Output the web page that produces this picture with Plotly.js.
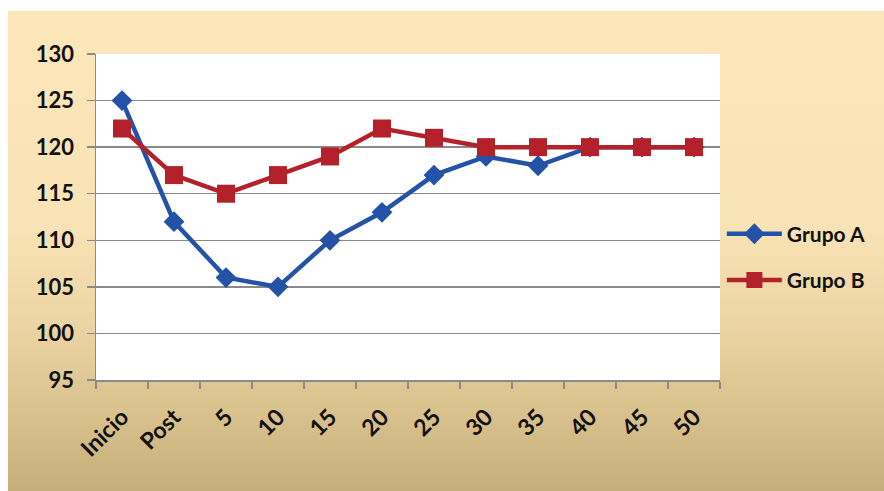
<!DOCTYPE html>
<html>
<head>
<meta charset="utf-8">
<script src="https://cdn.plot.ly/plotly-3.0.1.min.js"></script>
<style>
  html, body { margin:0; padding:0; background:#ffffff; }
  #bg { position:absolute; left:8px; top:11px; width:876px; height:480px;
        background: linear-gradient(to bottom, #fde6ba 0%, #f8e3b6 45%, #ecd5a4 65%, #d8c08c 85%, #c6ae7a 100%); }
  #chart { position:absolute; left:0; top:0; width:884px; height:491px; }
</style>
</head>
<body>
<div id="bg"></div>
<div id="chart"></div>
<script>
const categories = ["Inicio", "Post", "5", "10", "15", "20", "25", "30", "35", "40", "45", "50"];
const grupoA = [125, 112, 106, 105, 110, 113, 117, 119, 118, 120, 120, 120];
const grupoB = [122, 117, 115, 117, 119, 122, 121, 120, 120, 120, 120, 120];
const yTicks = [95, 100, 105, 110, 115, 120, 125, 130];

const fontFam = "Lato, 'Open Sans', sans-serif";

const traces = [
  {
    x: categories, y: grupoA, name: "Grupo A", type: "scatter", mode: "lines+markers",
    legendgroup: "a",
    line: { color: "#2352a6", width: 4.5 },
    marker: { symbol: "diamond", size: 16, color: "#2352a6" }
  },
  {
    x: categories, y: grupoB, name: "Grupo B", type: "scatter", mode: "lines+markers",
    legendgroup: "b",
    line: { color: "#b5212a", width: 4.5 },
    marker: { symbol: "square", size: 18, color: "#b5212a" }
  }
];

const layout = {
  width: 884, height: 491,
  paper_bgcolor: "rgba(0,0,0,0)",
  plot_bgcolor: "#ffffff",
  margin: { l: 96, r: 164, t: 54, b: 111, pad: 0 },
  showlegend: true,
  legend: {
    x: 1.003, xanchor: "left", y: 0.377, yanchor: "middle",
    bgcolor: "rgba(0,0,0,0)",
    font: { family: fontFam, size: 21, color: "#111111", weight: "bold" },
    traceorder: "grouped", tracegroupgap: 16, itemwidth: 55
  },
  xaxis: {
    type: "category",
    range: [-0.5, categories.length - 0.5],
    tickangle: -45,
    tickson: "boundaries",
    ticks: "outside", ticklen: 7, tickwidth: 1.5, tickcolor: "#8a8a8a",
    showline: true, linecolor: "#8a8a8a", linewidth: 1.5,
    showgrid: false,
    tickfont: { family: fontFam, size: 23, color: "#111111", weight: "bold" },
    ticklabelstandoff: 13,
    fixedrange: true
  },
  yaxis: {
    range: [95, 130],
    tickvals: yTicks,
    ticktext: yTicks.map(String),
    ticks: "outside", ticklen: 8, tickwidth: 1.5, tickcolor: "#8a8a8a",
    showline: true, linecolor: "#8a8a8a", linewidth: 1.5,
    showgrid: true, gridcolor: "#8a8a8a", gridwidth: 1.5,
    zeroline: false,
    tickfont: { family: fontFam, size: 22, color: "#111111", weight: "bold" },
    ticklabelstandoff: 8,
    fixedrange: true
  }
};

Plotly.newPlot("chart", traces, layout, { displayModeBar: false, staticPlot: true });
</script>
</body>
</html>
